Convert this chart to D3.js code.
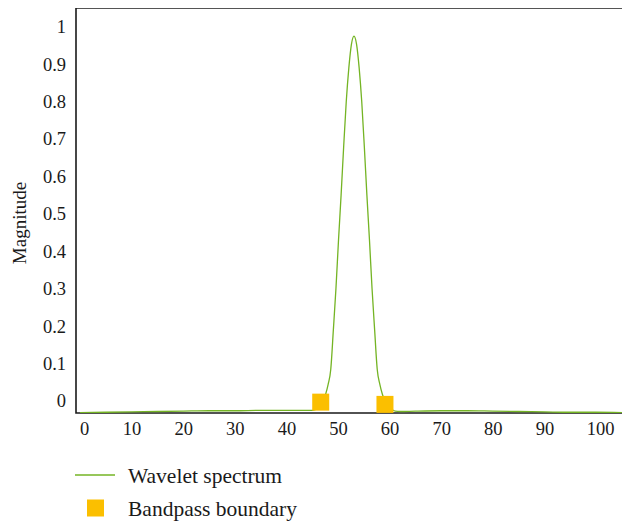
<!DOCTYPE html>
<html>
<head>
<meta charset="utf-8">
<script src="https://cdn.jsdelivr.net/npm/d3@7"></script>
<style>
  body { margin: 0; background: #fff; }
</style>
</head>
<body>
<div id="chart-container"></div>
<script>
// wavelet spectrum
const freq = [0, 5, 10, 15, 20, 25, 30, 35, 40, 44, 45.1, 45.6, 46.1, 46.6, 47.1, 47.6, 48.1, 48.6, 49.1, 49.6,
  50.1, 50.6, 51.1, 51.6, 52.1, 52.6, 53.1, 53.6, 54.1, 54.6, 55.1, 55.6, 56.1, 56.6, 57.1, 57.6,
  58.1, 58.6, 59.1, 59.6, 60.1, 60.6, 61.1, 62, 65, 70, 75, 80, 85, 90, 95, 100, 106];
const magnitude = [-0.031, -0.030, -0.029, -0.028, -0.027, -0.026, -0.026, -0.025, -0.025, -0.025, -0.025, -0.023, -0.019, -0.010, 0.000, 0.018, 0.045, 0.085, 0.19, 0.30,
  0.43, 0.55, 0.68, 0.80, 0.89, 0.953, 0.975, 0.953, 0.89, 0.80, 0.68, 0.55, 0.43, 0.30, 0.19, 0.085,
  0.045, 0.018, 0.000, -0.010, -0.019, -0.024, -0.027, -0.028, -0.027, -0.026, -0.026, -0.027, -0.028, -0.029, -0.030, -0.030, -0.031];
const boundaryFreq = [46.65, 59.1];
const boundaryMag = [-0.003, -0.009];
const xTicks = [0, 10, 20, 30, 40, 50, 60, 70, 80, 90, 100];
const yTicks = [0, 0.1, 0.2, 0.3, 0.4, 0.5, 0.6, 0.7, 0.8, 0.9, 1];
const legendLabels = ["Wavelet spectrum", "Bandpass boundary"];

let W = 622, H = 522,
    plotLeft = 76, plotTop = 8, plotBottom = 413, plotRight = 622,
    serif = "'Liberation Serif', 'DejaVu Serif', 'Times New Roman', serif",
    ink = "#1a1a1a", green = "#74b424", gold = "#fbbf00",
    svg = d3.select("#chart-container").append("svg")
        .attr("width", W).attr("height", H)
        .attr("font-family", serif);

let x = d3.scaleLinear().domain([0, 100]).range([80, 596]),
    y = d3.scaleLinear().domain([-0.032, 1.05]).range([plotBottom, plotTop]);

let spectrum = freq.map((f, i) => ({ f: f, m: magnitude[i] })),
    bounds = boundaryFreq.map((f, i) => ({ f: f, m: boundaryMag[i] }));

svg.append("clipPath").attr("id", "plot-clip")
    .append("rect").attr("x", plotLeft).attr("y", plotTop)
    .attr("width", plotRight - plotLeft).attr("height", plotBottom - plotTop);

// frame: lighter top, dark left and bottom
svg.append("line").attr("x1", plotLeft).attr("x2", plotRight).attr("y1", plotTop + 0.5).attr("y2", plotTop + 0.5)
    .attr("stroke", "#555").attr("stroke-width", 1.2);
svg.append("path")
    .attr("d", `M${plotLeft},${plotTop}V${plotBottom}H${plotRight}`)
    .attr("fill", "none").attr("stroke", ink).attr("stroke-width", 1.6);

let line = d3.line()
    .x(d => x(d.f))
    .y(d => y(d.m))
    .curve(d3.curveMonotoneX);

svg.append("path")
    .datum(spectrum)
    .attr("clip-path", "url(#plot-clip)")
    .attr("fill", "none")
    .attr("stroke", green)
    .attr("stroke-width", 1.3)
    .attr("d", line);

svg.selectAll("rect.bound")
    .data(bounds)
    .enter().append("rect")
    .attr("class", "bound")
    .attr("x", d => x(d.f) - 8.5)
    .attr("y", d => y(d.m) - 8.5)
    .attr("width", 17)
    .attr("height", 17)
    .attr("fill", gold);

// axes: labels only, no tick marks
let yAxis = svg.append("g")
    .attr("transform", `translate(${plotLeft},0)`)
    .call(d3.axisLeft(y).tickValues(yTicks).tickSize(0).tickPadding(10).tickFormat(d3.format("~g")));
yAxis.attr("font-family", serif).attr("font-size", 18);
yAxis.select(".domain").remove();
yAxis.selectAll("text").style("font-family", serif).style("font-size", "18.5px").attr("fill", ink);

let xAxis = svg.append("g")
    .attr("transform", `translate(0,${plotBottom})`)
    .call(d3.axisBottom(x).tickValues(xTicks).tickSize(0).tickPadding(9));
xAxis.attr("font-family", serif).attr("font-size", 18);
xAxis.select(".domain").remove();
xAxis.selectAll("text").style("font-family", serif).style("font-size", "18.5px").attr("fill", ink)
    .attr("dx", d => d === 0 ? 4 : d === 100 ? 4 : 0);

svg.append("text")
    .attr("transform", `translate(19,223) rotate(-90)`)
    .attr("text-anchor", "middle")
    .attr("dy", "0.35em")
    .style("font-family", serif)
    .style("font-size", "19px")
    .attr("fill", ink)
    .text("Magnitude");

// legend
let legend = svg.append("g");
legend.append("line").attr("x1", 75).attr("x2", 115).attr("y1", 475).attr("y2", 475)
    .attr("stroke", green).attr("stroke-width", 1.3);
legend.append("rect").attr("x", 87).attr("y", 499.5).attr("width", 17).attr("height", 17).attr("fill", gold);
legend.selectAll("text.lg")
    .data(legendLabels)
    .enter().append("text")
    .attr("class", "lg")
    .attr("x", 128)
    .attr("y", (d, i) => 475 + i * 33)
    .attr("dy", "0.35em")
    .style("font-family", serif)
    .style("font-size", "21.5px")
    .attr("fill", ink)
    .text(d => d);
</script>
</body>
</html>
